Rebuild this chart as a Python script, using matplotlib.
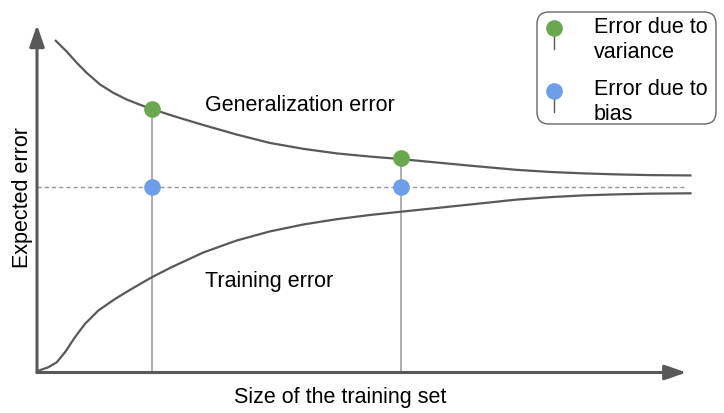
import matplotlib
matplotlib.use("Agg")
import matplotlib.pyplot as plt
from matplotlib.patches import FancyBboxPatch

plt.rcParams['font.family'] = ['Liberation Sans', 'DejaVu Sans']

# curves (x = training set size, y = expected error)
gen_x = [2.77, 4.57, 6.11, 7.65, 9.69, 11.74, 13.8, 15.85, 17.65, 19.95, 22.0, 25.6, 30.7, 35.8,
         41.0, 46.1, 51.2, 55.8, 61.5, 66.6, 73.8, 78.9, 84.0, 89.2, 94.3, 100.7]
gen_y = [95.0, 91.7, 88.5, 85.6, 82.3, 79.9, 78.0, 76.5, 75.3, 73.9, 72.7, 70.7, 68.0, 65.6,
         63.9, 62.6, 61.7, 61.0, 60.0, 59.1, 57.9, 57.3, 56.9, 56.6, 56.4, 56.3]

train_x = [0.2, 1.74, 3.03, 4.31, 5.85, 7.38, 9.43, 12.0, 14.57, 17.65, 20.72, 25.6, 30.7, 35.8,
           41.0, 46.1, 51.2, 55.8, 61.5, 68.7, 73.8, 78.9, 84.0, 89.2, 94.3, 100.7]
train_y = [0.5, 1.5, 2.9, 5.8, 10.1, 13.9, 17.7, 21.0, 23.9, 27.2, 30.1, 34.3, 37.7, 40.3,
           42.3, 43.8, 45.0, 45.9, 47.0, 48.4, 49.4, 50.1, 50.6, 50.9, 51.1, 51.2]

bias_level = 53.0
sizes = [17.65, 56.0]
variance_pts = [75.3, 61.2]
bias_pts = [53.0, 53.0]

legend_labels = ["Error due to\nvariance", "Error due to\nbias"]

GREEN = "#6aa84f"
BLUE = "#6d9eeb"
DARK = "#595959"
GREY = "#999999"

fig = plt.figure(figsize=(7.24, 4.14), dpi=100)
ax = fig.add_axes([0, 0, 1, 1])
ax.set_xlim(-37 / 6.5, (724 - 37) / 6.5)
ax.set_ylim((373.5 - 414) / 3.5, 373.5 / 3.5)
ax.axis('off')

# axes with arrow heads
arrow = dict(arrowstyle='-|>,head_length=1.3,head_width=0.45', mutation_scale=10,
             color=DARK, lw=2.2, shrinkA=0, shrinkB=0)
ax.annotate('', xy=(99.9, 0), xytext=(0, 0), arrowprops=arrow)
ax.annotate('', xy=(0, 99.3), xytext=(0, 0), arrowprops=arrow)

# dashed bias level
ax.plot([0, 100], [bias_level, bias_level], color=GREY, lw=1, dashes=(3, 2.2))

# vertical guides
for x, y in zip(sizes, variance_pts):
    ax.plot([x, x], [0, y], color=GREY, lw=1.1)

ax.plot(gen_x, gen_y, color=DARK, lw=1.6, solid_joinstyle='round', solid_capstyle='butt')
ax.plot(train_x, train_y, color=DARK, lw=1.6, solid_joinstyle='round', solid_capstyle='butt')

ax.plot(sizes, variance_pts, 'o', color=GREEN, ms=12, mew=0, zorder=5)
ax.plot(sizes, bias_pts, 'o', color=BLUE, ms=12, mew=0, zorder=5)

ax.text(25.85, (373.5 - 111) / 3.5, "Generalization error", fontsize=15.5, va='baseline', ha='left')
ax.text(25.85, (373.5 - 287.3) / 3.5, "Training error", fontsize=15.5, va='baseline', ha='left')

# overlay in pixel units for labels and legend
ov = fig.add_axes([0, 0, 1, 1], facecolor='none')
ov.set_xlim(0, 724)
ov.set_ylim(414, 0)
ov.axis('off')

ov.text(340, 403.3, "Size of the training set", fontsize=15.5, ha='center', va='baseline')
ov.text(28.3, 197.5, "Expected error", fontsize=15.5, ha='center', va='baseline', rotation=90,
        rotation_mode='anchor')

box = FancyBboxPatch((537, 13), 716 - 537, 125 - 13, boxstyle="round,pad=0,rounding_size=12",
                     fc='white', ec='#666666', lw=1)
ov.add_patch(box)

for yc, col, lab, base in [(29, GREEN, legend_labels[0], 33.3), (92, BLUE, legend_labels[1], 95.0)]:
    ov.plot([554, 554], [yc, yc + 21], color=DARK, lw=1)
    ov.plot([554], [yc], 'o', color=col, ms=12, mew=0)
    for i, line in enumerate(lab.split("\n")):
        ov.text(594, base + i * 25, line, fontsize=15.5, ha='left', va='baseline')

fig.savefig("out.png", dpi=100)
